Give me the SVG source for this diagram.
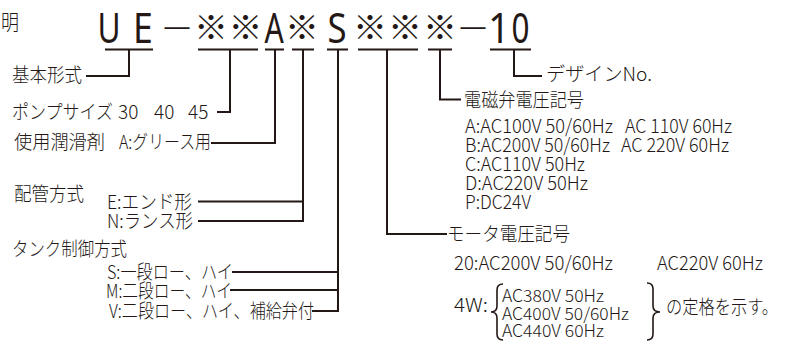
<svg xmlns="http://www.w3.org/2000/svg" width="790" height="342" viewBox="0 0 790 342">
<style>
.t{font-family:"Noto Sans CJK JP","Liberation Sans",sans-serif;font-size:19px;font-weight:300;fill:#231815}
.s{font-size:17px}
.big{font-family:"Noto Sans","Liberation Sans",sans-serif;font-size:42px;font-weight:400;fill:#231815}
.kome{font-family:"Noto Sans CJK JP",sans-serif;font-size:34px;font-weight:300;fill:#231815;text-anchor:middle}
.c{fill:none;stroke:#231815;stroke-width:2}
.br{fill:none;stroke:#231815;stroke-width:1.6}
</style>
<rect width="790" height="342" fill="#fff"/>
<text class="t" x="1" y="30" style="font-size:22px" textLength="18" lengthAdjust="spacingAndGlyphs">明</text>
<g id="code">
<text class="big" x="97.5" y="43" textLength="23.1" lengthAdjust="spacingAndGlyphs">U</text>
<text class="big" x="133.1" y="43" textLength="19.8" lengthAdjust="spacingAndGlyphs">E</text>
<text class="kome" x="177" y="41">－</text>
<text class="kome" x="211" y="40">※</text>
<text class="kome" x="245.5" y="40">※</text>
<text class="big" x="264.4" y="43" textLength="19.3" lengthAdjust="spacingAndGlyphs">A</text>
<text class="kome" x="302" y="40">※</text>
<text class="big" x="327.5" y="43" textLength="19.1" lengthAdjust="spacingAndGlyphs">S</text>
<text class="kome" x="370" y="40">※</text>
<text class="kome" x="405" y="40">※</text>
<text class="kome" x="440" y="40">※</text>
<text class="kome" x="473" y="41">－</text>
<text class="big" x="488.2" y="43" textLength="21.6" lengthAdjust="spacingAndGlyphs">1</text>
<text class="big" x="511.5" y="43" textLength="18" lengthAdjust="spacingAndGlyphs">0</text>
</g>
<g id="connectors">
<path class="c" d="M105,49.5H153M198,49.5H258M265,49.5H284M292,49.5H314M327,49.5H348M358,49.5H418M428,49.5H452M490,49.5H531"/>
<path class="c" d="M129,49.5V76H86"/>
<path class="c" d="M230,49.5V112H217"/>
<path class="c" d="M275,49.5V143H211"/>
<path class="c" d="M303,49.5V221H198M303,201.5H198"/>
<path class="c" d="M338,49.5V311H312M338,272H232M338,290H230"/>
<path class="c" d="M387,49.5V234H447"/>
<path class="c" d="M440,49.5V99.5H461"/>
<path class="c" d="M514,49.5V76H542"/>
</g>
<g id="basic"><text class="t" x="12" y="81.5" textLength="70" lengthAdjust="spacingAndGlyphs">基本形式</text></g>
<g id="pumpsize">
<text class="t" x="12" y="119" textLength="101" lengthAdjust="spacingAndGlyphs">ポンプサイズ</text>
<text class="t" x="118" y="119">30</text>
<text class="t" x="154" y="119">40</text>
<text class="t" x="188" y="119">45</text>
</g>
<g id="lubricant">
<text class="t" x="14" y="148.5" textLength="91" lengthAdjust="spacingAndGlyphs">使用潤滑剤</text>
<text class="t" x="119" y="148.5" textLength="92" lengthAdjust="spacingAndGlyphs">A:グリース用</text>
</g>
<g id="piping">
<text class="t" x="14" y="200.5" textLength="70" lengthAdjust="spacingAndGlyphs">配管方式</text>
<text class="t" x="107" y="209" textLength="85" lengthAdjust="spacingAndGlyphs">E:エンド形</text>
<text class="t" x="107" y="228" textLength="86" lengthAdjust="spacingAndGlyphs">N:ランス形</text>
</g>
<g id="tank">
<text class="t" x="12" y="256" textLength="115" lengthAdjust="spacingAndGlyphs">タンク制御方式</text>
<text class="t" x="107" y="278.5" textLength="126" lengthAdjust="spacingAndGlyphs">S:一段ロー、ハイ</text>
<text class="t" x="106" y="298" textLength="126" lengthAdjust="spacingAndGlyphs">M:二段ロー、ハイ</text>
<text class="t" x="109" y="318" textLength="205" lengthAdjust="spacingAndGlyphs">V:二段ロー、ハイ、補給弁付</text>
</g>
<g id="design"><text class="t" x="546" y="80.5" textLength="106" lengthAdjust="spacingAndGlyphs">デザインNo.</text></g>
<g id="solenoid">
<text class="t" x="464" y="107" textLength="120" lengthAdjust="spacingAndGlyphs">電磁弁電圧記号</text>
<text class="t" x="465" y="133" textLength="148" lengthAdjust="spacingAndGlyphs">A:AC100V 50/60Hz</text>
<text class="t" x="625" y="133" textLength="107" lengthAdjust="spacingAndGlyphs">AC 110V 60Hz</text>
<text class="t" x="465" y="152" textLength="145" lengthAdjust="spacingAndGlyphs">B:AC200V 50/60Hz</text>
<text class="t" x="621" y="152" textLength="108" lengthAdjust="spacingAndGlyphs">AC 220V 60Hz</text>
<text class="t" x="465" y="171" textLength="120" lengthAdjust="spacingAndGlyphs">C:AC110V 50Hz</text>
<text class="t" x="465" y="190" textLength="123" lengthAdjust="spacingAndGlyphs">D:AC220V 50Hz</text>
<text class="t" x="465" y="209" textLength="66" lengthAdjust="spacingAndGlyphs">P:DC24V</text>
</g>
<g id="motor">
<text class="t" x="447" y="241" textLength="123" lengthAdjust="spacingAndGlyphs">モータ電圧記号</text>
<text class="t" x="454" y="270" textLength="159" lengthAdjust="spacingAndGlyphs">20:AC200V 50/60Hz</text>
<text class="t" x="657" y="270" textLength="106" lengthAdjust="spacingAndGlyphs">AC220V 60Hz</text>
<text class="t" x="454" y="312" textLength="34" lengthAdjust="spacingAndGlyphs">4W:</text>
<path class="br" d="M503,284Q497,284 497,290V306Q497,312 491,312Q497,312 497,318V334Q497,340 503,340"/>
<text class="t s" x="502" y="302" textLength="102" lengthAdjust="spacingAndGlyphs">AC380V 50Hz</text>
<text class="t s" x="502" y="320" textLength="127" lengthAdjust="spacingAndGlyphs">AC400V 50/60Hz</text>
<text class="t s" x="502" y="337" textLength="102" lengthAdjust="spacingAndGlyphs">AC440V 60Hz</text>
<path class="br" d="M647,283Q653,283 653,289V306Q653,312 660,312Q653,312 653,318V334Q653,340 647,340"/>
<text class="t" x="666" y="314" textLength="112" lengthAdjust="spacingAndGlyphs">の定格を示す。</text>
</g>
</svg>
